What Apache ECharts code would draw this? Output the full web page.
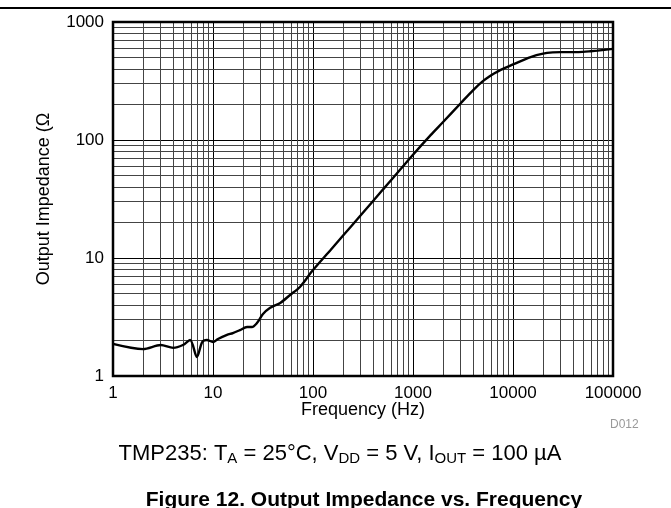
<!DOCTYPE html>
<html><head><meta charset="utf-8">
<script src="https://cdn.jsdelivr.net/npm/echarts@6/dist/echarts.min.js"></script>
<style>html,body{margin:0;padding:0;background:#fff}#c{width:671px;height:508px}</style>
</head><body><div id="c"></div>
<script>
const freqHz = [1, 2, 3, 4, 5, 5.9, 6.9, 7.8, 8.7, 10, 11.2, 13.8, 15.8, 18.6, 21.9, 24.5, 27.5, 31.6, 37, 47, 59, 74, 100, 150, 200, 300, 500, 631, 1000, 1500, 2000, 3000, 4000, 5000, 6000, 7000, 8710, 10000, 15000, 20000, 25000, 30000, 40000, 50000, 60000, 70000, 100000];
const impedanceOhm = [1.87, 1.69, 1.83, 1.73, 1.83, 2.02, 1.45, 1.94, 2.02, 1.94, 2.06, 2.23, 2.31, 2.45, 2.6, 2.6, 2.81, 3.35, 3.77, 4.16, 4.86, 5.68, 7.9, 11.7, 15.5, 23, 38, 47.6, 75, 110, 142, 205, 265, 315, 352, 380, 415, 437, 505, 540, 553, 556, 556, 558, 565, 572, 592];
const xTicks = [1, 10, 100, 1000, 10000, 100000];
const yTicks = [1, 10, 100, 1000];

const minorX = [], minorY = [];
xTicks.slice(0, -1).forEach(d => { for (let k = 2; k <= 9; k++) minorX.push(d * k); });
yTicks.slice(0, -1).forEach(d => { for (let k = 2; k <= 9; k++) minorY.push(d * k); });

const chart = echarts.init(document.getElementById('c'), null, {renderer: 'canvas'});
const font = 'Liberation Sans, Arial, sans-serif';
chart.setOption({
  animation: false,
  grid: {left: 113, right: 58, top: 22, bottom: 132, containLabel: false},
  xAxis: {
    type: 'log', logBase: 10, min: 1, max: 100000,
    name: 'Frequency (Hz)', nameLocation: 'middle', nameGap: 25, nameMoveOverlap: false,
    nameTextStyle: {color: '#000', fontSize: 18, fontFamily: font},
    axisLine: {show: false},
    axisTick: {show: false},
    axisLabel: {color: '#000', fontSize: 17, fontFamily: font, margin: 9, formatter: v => String(v)},
    splitLine: {show: true, lineStyle: {color: '#000', width: 1}}
  },
  yAxis: {
    type: 'log', logBase: 10, min: 1, max: 1000,
    name: 'Output Impedance (\u03A9', nameLocation: 'middle', nameGap: 60, nameRotate: 90, nameMoveOverlap: false,
    nameTextStyle: {color: '#000', fontSize: 18, fontFamily: font},
    axisLine: {show: false},
    axisTick: {show: false},
    axisLabel: {color: '#000', fontSize: 17, fontFamily: font, margin: 9, formatter: v => String(v)},
    splitLine: {show: true, lineStyle: {color: '#000', width: 1}}
  },
  series: [
    {
      type: 'line', silent: true, data: [],
      markLine: {
        silent: true, symbol: 'none', label: {show: false},
        lineStyle: {color: '#444', width: 1, type: 'solid'},
        data: minorX.map(v => ({xAxis: v})).concat(minorY.map(v => ({yAxis: v})))
      }
    },
    {
      type: 'line', showSymbol: false, smooth: 0.3,
      data: freqHz.map((f, i) => [f, impedanceOhm[i]]),
      lineStyle: {color: '#000', width: 2.4},
      z: 5
    }
  ],
  graphic: [
    {type: 'rect', shape: {x: 113, y: 22, width: 500, height: 354}, style: {fill: 'none', stroke: '#000', lineWidth: 2.5}, z: 10},
    {type: 'line', shape: {x1: 0, y1: 8, x2: 671, y2: 8}, style: {stroke: '#000', lineWidth: 2}},
    {type: 'text', x: 610, y: 419, style: {text: 'D012', fill: '#999', font: '12px ' + font}},
    {type: 'text', x: 340, y: 454, style: {
      text: 'TMP235: T{s|A} = 25°C, V{s|DD} = 5 V, I{s|OUT} = 100 µA',
      fill: '#000', font: '22px ' + font, align: 'center', verticalAlign: 'middle',
      rich: {s: {fontSize: 15, fontFamily: font, verticalAlign: 'bottom', padding: [10, 0, 0, 0]}}
    }},
    {type: 'text', x: 364, y: 500, style: {text: 'Figure 12. Output Impedance vs. Frequency', fill: '#000', font: 'bold 21px ' + font, align: 'center', verticalAlign: 'middle'}}
  ]
});
</script>
</body></html>
